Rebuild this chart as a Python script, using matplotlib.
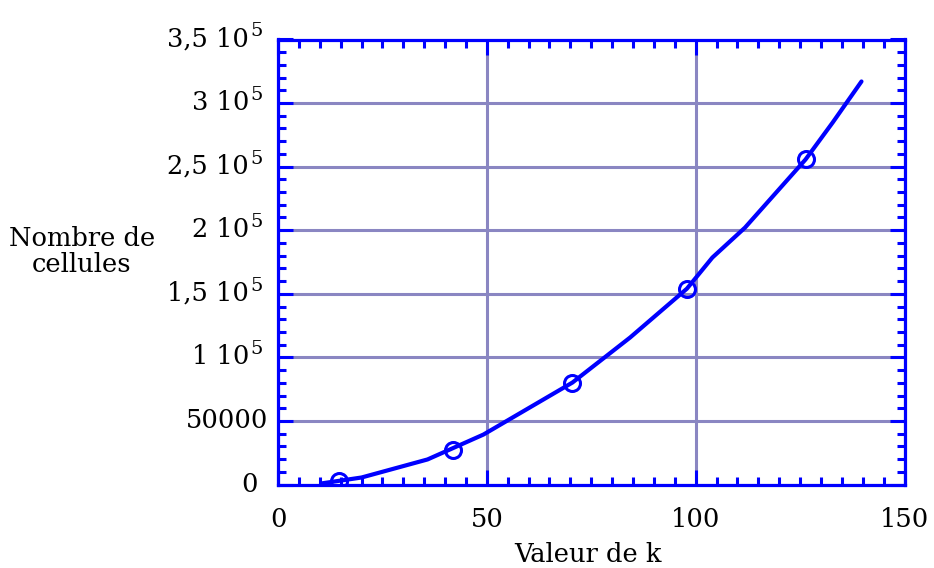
import matplotlib
matplotlib.use("Agg")
import matplotlib.pyplot as plt
from matplotlib.ticker import MultipleLocator

# Curve: number of cells as a function of k
curve_k = [10.3, 20, 35.8, 49.2, 70.5, 84.3, 97.9, 104, 111.8, 126.3, 132.8, 139.7]
curve_cells = [800, 5500, 19700, 39300, 80200, 115600, 154000, 178500, 202000, 255600, 284700, 317000]

# Measured points
point_k = [14.6, 41.8, 70.5, 97.9, 126.3]
point_cells = [3000, 27500, 80200, 154000, 255700]

x_ticks = [0, 50, 100, 150]
x_tick_labels = ["0", "50", "100", "150"]
y_ticks = [0, 50000, 100000, 150000, 200000, 250000, 300000, 350000]
y_tick_mantissa = ["0", "50000", "1 10", "1,5 10", "2 10", "2,5 10", "3 10", "3,5 10"]
y_tick_exponent = ["", "", "5", "5", "5", "5", "5", "5"]

BLUE = "#0000ff"
GRID = "#8a86c2"
FONT = "DejaVu Serif"
FS = 18.5

W, H = 934, 568
fig = plt.figure(figsize=(W / 100, H / 100), dpi=100)
ax = fig.add_axes([278 / W, (H - 484.5) / H, (904.5 - 278) / W, (484.5 - 39.5) / H])

ax.set_xlim(0, 150)
ax.set_ylim(0, 350000)

ax.grid(True, which="major", color=GRID, linewidth=2.2, zorder=0)
ax.set_axisbelow(True)

ax.plot(curve_k, curve_cells, color=BLUE, linewidth=3.0, zorder=3,
        solid_joinstyle="round", solid_capstyle="round")
ax.plot(point_k, point_cells, linestyle="none", marker="o", markersize=11.5,
        markerfacecolor="none", markeredgecolor=BLUE, markeredgewidth=2.2, zorder=4)

for s in ax.spines.values():
    s.set_color(BLUE)
    s.set_linewidth(2.3)

ax.xaxis.set_major_locator(MultipleLocator(50))
ax.xaxis.set_minor_locator(MultipleLocator(5))
ax.yaxis.set_major_locator(MultipleLocator(50000))
ax.yaxis.set_minor_locator(MultipleLocator(10000))
ax.tick_params(which="both", direction="in", top=True, right=True,
               color=BLUE, width=2.2)
ax.tick_params(which="major", length=11)
ax.tick_params(which="minor", length=5.8)

ax.set_xticks(x_ticks)
ax.set_xticklabels(x_tick_labels, fontfamily=FONT, fontsize=FS)
ax.tick_params(axis="x", which="major", pad=16)
ax.set_yticks(y_ticks)
ax.set_yticklabels([])

# y tick labels with raised exponent drawn as text
ytrans = ax.get_yaxis_transform()
for val, mant, exp in zip(y_ticks, y_tick_mantissa, y_tick_exponent):
    if exp:
        ax.annotate(mant, xy=(0, val), xycoords=ytrans, xytext=(-29, -7),
                    textcoords="offset pixels", ha="right", va="baseline",
                    fontfamily=FONT, fontsize=FS, annotation_clip=False)
        ax.annotate(exp, xy=(0, val), xycoords=ytrans, xytext=(-28, 3),
                    textcoords="offset pixels", ha="left", va="baseline",
                    fontfamily=FONT, fontsize=14, annotation_clip=False)
    else:
        off = -10 if mant != "0" else -20
        ax.annotate(mant, xy=(0, val), xycoords=ytrans, xytext=(off, -7),
                    textcoords="offset pixels", ha="right", va="baseline",
                    fontfamily=FONT, fontsize=FS, annotation_clip=False)

fig.text(588 / W, 1 - 555 / H, "Valeur de k", ha="center", va="center",
         fontfamily=FONT, fontsize=FS)
fig.text(82 / W, 1 - 251 / H, "Nombre de\ncellules", ha="center", va="center",
         fontfamily=FONT, fontsize=FS, linespacing=1.05, multialignment="center")

fig.savefig("out.png", dpi=100)
